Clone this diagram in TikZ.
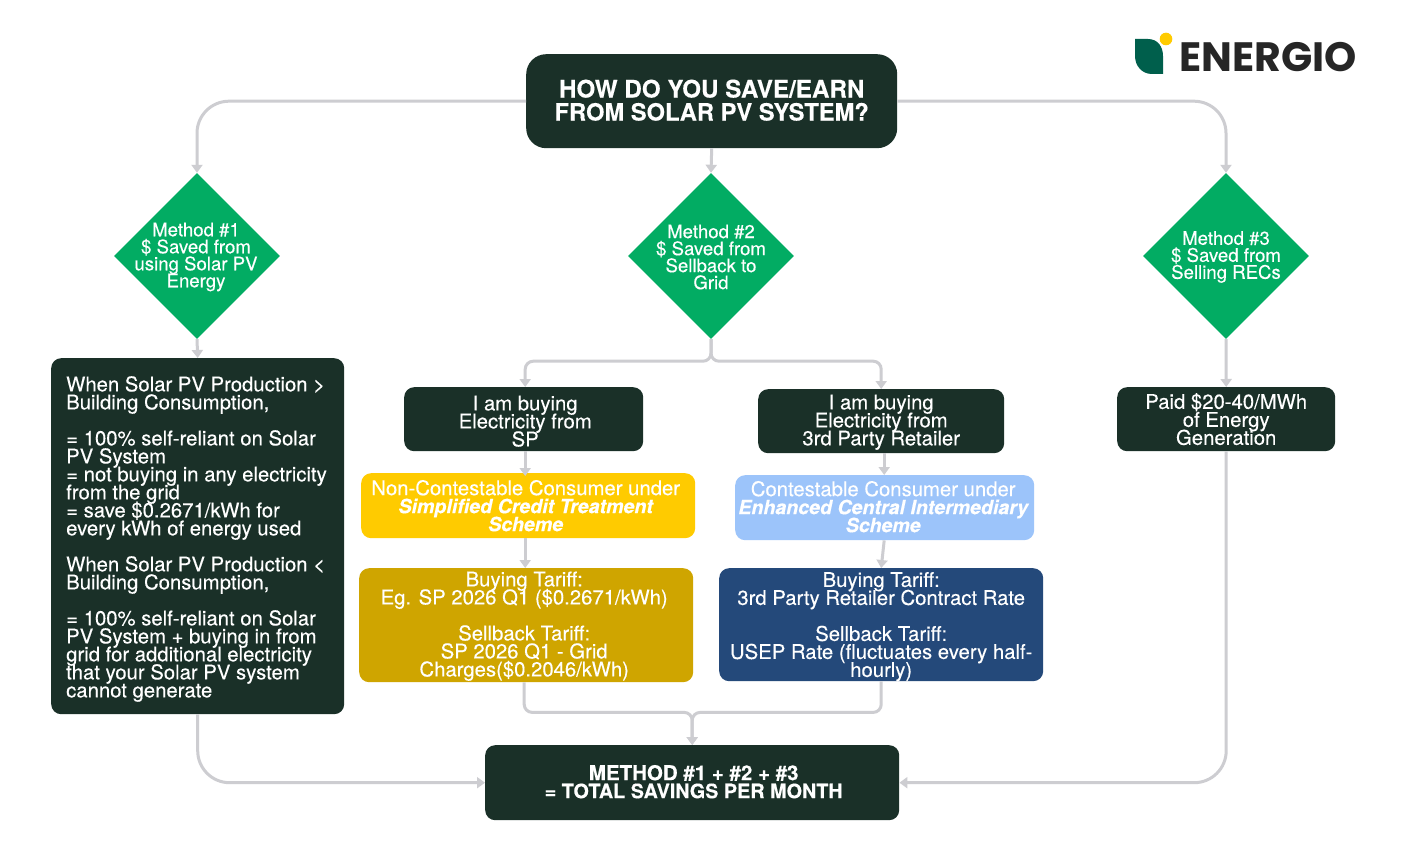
\documentclass[tikz,border=0pt]{standalone}
\usepackage{fontspec}
\setmainfont{TeX Gyre Heros}[UprightFeatures={FakeBold=0.25},BoldFeatures={FakeBold=0.3},BoldItalicFeatures={FakeBold=0.3}]
\newfontfamily\logofont{Poppins}
\usetikzlibrary{shapes.geometric,arrows.meta}
\lineskiplimit=-100pt
\definecolor{dk}{HTML}{1A3028}
\definecolor{grn}{HTML}{02AC63}
\definecolor{yel}{HTML}{FFCB00}
\definecolor{sky}{HTML}{9CC4FA}
\definecolor{gold}{HTML}{CFA500}
\definecolor{navy}{HTML}{24497A}
\definecolor{ln}{HTML}{CDCDD1}
\definecolor{leaf}{HTML}{005F4C}
\tikzset{
 x=1pt,y=-1pt,
 dm/.style={diamond,fill=grn,inner sep=0pt,minimum width=166pt,minimum height=166pt,aspect=1},
 dmt/.style={text=white,align=center,font=\fontsize{18.6}{17}\selectfont,inner sep=0pt},
 bxt/.style={text=white,align=center,font=\fontsize{20.3}{18}\selectfont,inner sep=0pt},
 conn/.style={draw=ln,line width=3pt,-{Triangle[length=8pt,width=11pt]},rounded corners=#1},
 conn/.default=8pt
}
\newcommand{\bi}[1]{{\fontsize{19.6}{18}\selectfont\bfseries\itshape #1}}
% name, x1,y1,x2,y2, fill, text dx, text dy, text
\newcommand{\bxat}[9]{%
 \node[fill=#6,rounded corners=10pt,inner sep=0pt,minimum width=#4pt-#2pt,minimum height=#5pt-#3pt,anchor=north west,
   label={[bxt,xshift=#7pt,yshift=-#8pt]center:{#9}}] (#1) at (#2,#3) {};}
\begin{document}
\begin{tikzpicture}
\useasboundingbox (0,0) rectangle (1403,842);
\fill[white] (0,0) rectangle (1403,842);
% boxes
\node[fill=dk,rounded corners=20pt,inner sep=0pt,minimum width=371pt,minimum height=94pt,anchor=north west,
  label={[text=white,align=center,inner sep=0pt,yshift=1pt,font=\fontsize{24.2}{23}\selectfont\bfseries]center:{HOW DO YOU SAVE/EARN\\{\fontsize{23.7}{23}\selectfont FROM SOLAR PV SYSTEM?}}}] (top) at (526,54) {};
\node[dm,label={[dmt,xshift=-1pt,yshift=-1pt]center:Method \#1\\\$ Saved from\\using Solar PV\\Energy}] (d1) at (197,256) {};
\node[dm,label={[dmt,yshift=-1pt]center:Method \#2\\\$ Saved from\\Sellback to\\Grid}] (d2) at (711,256) {};
\node[dm,label={[dmt,yshift=-1pt]center:Method \#3\\\$ Saved from\\Selling RECs}] (d3) at (1226,256) {};
\node[fill=dk,rounded corners=10pt,inner sep=0pt,minimum width=293pt,minimum height=356pt,anchor=north west] (leftbox) at (51,358) {};
\node[inner sep=0pt,anchor=north west,text=white,align=left,font=\fontsize{20.3}{18}\selectfont] (left) at (66,376) {When Solar PV Production >\\Building Consumption,\\[18pt]= 100\% self-reliant on Solar\\PV System\\= not buying in any electricity\\from the grid\\= save \$0.2671/kWh for\\every kWh of energy used\\[18pt]When Solar PV Production <\\Building Consumption,\\[18pt]= 100\% self-reliant on Solar\\PV System + buying in from\\grid for additional electricity\\that your Solar PV system\\cannot generate};
\bxat{b1}{404}{387}{643}{451}{dk}{1.5}{2}{I am buying\\Electricity from\\SP}
\bxat{b2}{758}{389}{1004}{453}{dk}{0}{1}{I am buying\\Electricity from\\3rd Party Retailer}
\bxat{b3}{1117}{387}{1335}{451}{dk}{0}{0}{Paid \$20-40/MWh\\of Energy\\Generation}
\bxat{yb}{361}{473}{695}{538}{yel}{-2.5}{0}{Non-Contestable Consumer under\\\bi{Simplified Credit Treatment}\\\bi{Scheme}}
\bxat{sb}{735}{475}{1034}{540}{sky}{-1.5}{-1}{Contestable Consumer under\\\bi{Enhanced Central Intermediary}\\\bi{Scheme}}
\bxat{gb}{359}{568}{693}{682}{gold}{-2}{1}{Buying Tariff:\\Eg. SP 2026 Q1 (\$0.2671/kWh)\\[18pt]Sellback Tariff:\\SP 2026 Q1 - Grid\\Charges(\$0.2046/kWh)}
\bxat{nb}{719}{568}{1043}{681}{navy}{0}{2}{Buying Tariff:\\3rd Party Retailer Contract Rate\\[18pt]Sellback Tariff:\\USEP Rate (fluctuates every half-\\hourly)}
\node[fill=dk,rounded corners=10pt,inner sep=0pt,minimum width=414pt,minimum height=75pt,anchor=north west,
  label={[text=white,align=center,inner sep=0pt,xshift=1.5pt,yshift=1pt,font=\fontsize{20.5}{18}\selectfont\bfseries]center:{METHOD \#1 + \#2 + \#3\\{\fontsize{19.8}{18}\selectfont = TOTAL SAVINGS PER MONTH}}}] (fin) at (485,745) {};
% connectors
\draw[conn=32pt] (top.west) -| (d1.north);
\draw[conn=32pt] (top.east) -| (d3.north);
\draw[conn] (top.south) -- (d2.north);
\draw[conn] (d1.south) -- (leftbox.north);
\draw[conn] (d2.south) -- ++(0,22) -| ([xshift=1.5pt]b1.north);
\draw[conn] (d2.south) -- ++(0,22) -| (b2.north);
\draw[conn] (d3.south) -- (b3.north);
\draw[conn,shorten >=-3pt] ([xshift=1.5pt]b1.south) -- ([xshift=-3pt]yb.north);
\draw[conn] ([xshift=3pt]b2.south) -- ([xshift=-0.5pt]sb.north);
\draw[conn] ([xshift=-3pt]yb.south) -- ([xshift=-1pt]gb.north);
\draw[conn] ([xshift=-0.5pt]sb.south) -- (nb.north);
\draw[conn] ([xshift=-2pt]gb.south) -- ++(0,30) -| (fin.north);
\draw[conn] (nb.south) -- ++(0,31) -| (fin.north);
\draw[conn=32pt] (leftbox.south) |- (fin.west);
\draw[conn=32pt] (b3.south) |- (fin.east);
% logo
\fill[leaf] (1135,39) -- (1148,39) .. controls (1158,39) and (1163,47) .. (1163,56) -- (1163,74) -- (1152,74) .. controls (1142,74) and (1135,66) .. (1135,56) -- cycle;
\fill[yel] (1166,39) circle (6.3);
\node[inner sep=0pt,anchor=west,text=black!85,font=\logofont\fontsize{41}{41}\selectfont\bfseries] (logo) at (1179,57) {ENERGIO};
\end{tikzpicture}
\end{document}
